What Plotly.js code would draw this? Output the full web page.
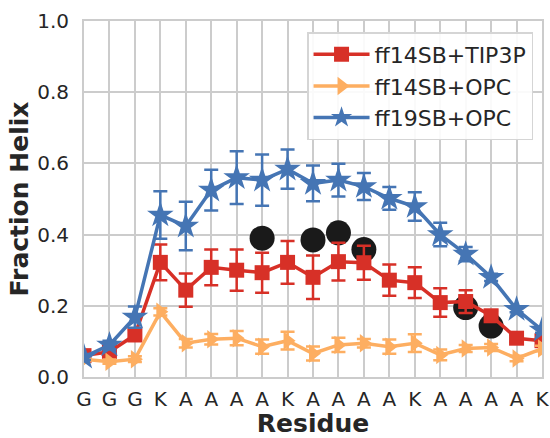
<!DOCTYPE html>
<html>
<head>
<meta charset="utf-8">
<script src="https://cdn.plot.ly/plotly-3.0.1.min.js"></script>
<style>html,body{margin:0;padding:0;background:#fff;}#chart{width:550px;height:438px;}</style>
</head>
<body>
<div id="chart"></div>
<script>
const residues = ["G","G","G","K","A","A","A","A","K","A","A","A","A","K","A","A","A","A","K"];
const positions = [0,1,2,3,4,5,6,7,8,9,10,11,12,13,14,15,16,17,18];

const tip3pY   = [0.060,0.071,0.118,0.322,0.244,0.308,0.300,0.293,0.322,0.280,0.324,0.321,0.272,0.265,0.209,0.212,0.172,0.109,0.102];
const tip3pErr = [0.008,0.010,0.015,0.050,0.047,0.050,0.058,0.056,0.060,0.061,0.053,0.048,0.044,0.043,0.040,0.032,0.015,0.010,0.008];

const opc14Y   = [0.050,0.043,0.050,0.183,0.095,0.106,0.109,0.085,0.102,0.066,0.090,0.095,0.085,0.095,0.062,0.080,0.083,0.052,0.080];
const opc14Err = [0.006,0.006,0.008,0.010,0.012,0.015,0.020,0.020,0.025,0.020,0.020,0.012,0.020,0.025,0.015,0.010,0.010,0.008,0.008];

const opc19Y   = [0.056,0.090,0.168,0.455,0.424,0.525,0.560,0.553,0.584,0.544,0.553,0.535,0.502,0.479,0.400,0.345,0.280,0.190,0.132];
const opc19Err = [0.008,0.012,0.030,0.067,0.068,0.057,0.074,0.072,0.055,0.050,0.046,0.038,0.032,0.040,0.033,0.020,0.010,0.008,0.008];

const exptPos = [7,9,10,11,15,16];
const exptY   = [0.390,0.385,0.405,0.358,0.195,0.143];

const colors = {tip3p:"#d73027", opc14:"#fdae61", opc19:"#4575b4"};

function series(name, y, err, color, symbol, size, group){
  return {
    type:"scatter", mode:"lines+markers", name:name, x:positions, y:y,
    legendgroup:group,
    line:{color:color, width:3.5},
    marker:{color:color, symbol:symbol, size:size, line:{width:0}},
    error_y:{type:"data", array:err, visible:true, color:color, thickness:2.5, width:7}
  };
}

const traces = [
  {type:"scatter", mode:"markers", x:exptPos, y:exptY, showlegend:false,
   marker:{color:"#1a1a1a", size:25, symbol:"circle"}},
  series("ff14SB+TIP3P", tip3pY, tip3pErr, colors.tip3p, "square", 15, "a"),
  series("ff14SB+OPC", opc14Y, opc14Err, colors.opc14, "triangle-right", 16, "b"),
  series("ff19SB+OPC", opc19Y, opc19Err, colors.opc19, "star", 20, "c")
];

const tickFont = {family:"DejaVu Sans", size:20, color:"#262626"};
const titleFont = {family:"DejaVu Sans", size:25, color:"#262626"};
const layout = {
  width:550, height:438,
  margin:{l:84, r:8, t:21, b:61},
  paper_bgcolor:"#fff", plot_bgcolor:"#fff",
  showlegend:true,
  xaxis:{
    range:[0,18], tickmode:"array", tickvals:positions, ticktext:residues,
    showgrid:true, gridcolor:"#cccccc", gridwidth:2,
    showline:true, mirror:true, linecolor:"#cccccc", linewidth:2,
    zeroline:false, ticks:"", tickfont:tickFont, ticklabelstandoff:3,
    title:{text:"<b>Residue</b>", font:titleFont, standoff:3}
  },
  yaxis:{
    range:[0,1], tickmode:"array", tickvals:[0,0.2,0.4,0.6,0.8,1.0],
    ticktext:["0.0","0.2","0.4","0.6","0.8","1.0"],
    showgrid:true, gridcolor:"#cccccc", gridwidth:2,
    showline:true, mirror:true, linecolor:"#cccccc", linewidth:2,
    zeroline:false, ticks:"", tickfont:tickFont, ticklabelstandoff:9,
    title:{text:"<b>Fraction Helix</b>", font:titleFont, standoff:1}
  },
  legend:{
    x:0.487, y:0.969, xanchor:"left", yanchor:"top",
    bgcolor:"rgba(255,255,255,0.9)", bordercolor:"#d5d5d5", borderwidth:1.5,
    font:{family:"DejaVu Sans", size:22, color:"#262626"},
    itemwidth:56, tracegroupgap:2, traceorder:"normal"
  }
};

Plotly.newPlot("chart", traces, layout, {displayModeBar:false, staticPlot:true});
</script>
</body>
</html>
